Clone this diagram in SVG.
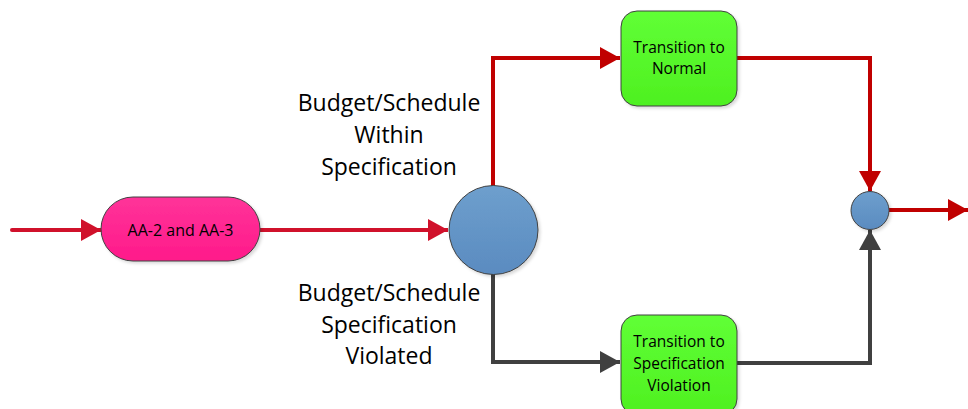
<svg xmlns="http://www.w3.org/2000/svg" width="968" height="409" viewBox="0 0 968 409">
<style>
.node{stroke:#404040;stroke-width:1}
.t{font-family:"Open Sans","Liberation Sans",sans-serif;fill:#000;text-anchor:middle}
.small{font-size:15.5px}
.mid{font-size:16px}
.big{font-size:23px}
.red{fill:none;stroke:#C00000;stroke-width:4}
.red2{fill:none;stroke:#D0112B;stroke-width:4}
.gray{fill:none;stroke:#404040;stroke-width:4}
</style>
<defs>
<linearGradient id="gPink" x1="0" y1="0" x2="0" y2="1"><stop offset="0" stop-color="#FF3399"/><stop offset="1" stop-color="#FF1A8A"/></linearGradient>
<linearGradient id="gGreen" x1="0" y1="0" x2="0" y2="1"><stop offset="0" stop-color="#60FF36"/><stop offset="1" stop-color="#4EF020"/></linearGradient>
<linearGradient id="gBlue" x1="0" y1="0" x2="0" y2="1"><stop offset="0" stop-color="#6E9FCD"/><stop offset="1" stop-color="#5A8BC0"/></linearGradient>
<filter id="sh" x="-20%" y="-20%" width="150%" height="150%"><feDropShadow dx="2" dy="2" stdDeviation="1.5" flood-color="#000" flood-opacity="0.15"/></filter>
<marker id="aRed" markerUnits="userSpaceOnUse" markerWidth="22" markerHeight="24" refX="20" refY="11" orient="auto"><path d="M0,0 L20,11 L0,22 Z" fill="#C00000"/></marker>
<marker id="aRed2" markerUnits="userSpaceOnUse" markerWidth="22" markerHeight="24" refX="20" refY="11" orient="auto"><path d="M0,0 L20,11 L0,22 Z" fill="#D0112B"/></marker>
<marker id="aGray" markerUnits="userSpaceOnUse" markerWidth="22" markerHeight="24" refX="20" refY="11" orient="auto"><path d="M0,0 L20,11 L0,22 Z" fill="#404040"/></marker>
</defs>
<g id="connectors">
<path class="red2" d="M12,230 H101" stroke-linecap="round" marker-end="url(#aRed2)"/>
<path class="red2" d="M260,230 H448" marker-end="url(#aRed2)"/>
<path class="red" d="M493,186 V58 H620" marker-end="url(#aRed)"/>
<path class="gray" d="M493,274 V362 H620" marker-end="url(#aGray)"/>
<path class="red" d="M737,58 H870 V191" marker-end="url(#aRed)"/>
<path class="gray" d="M737,363 H870 V230" marker-end="url(#aGray)"/>
<path class="red" d="M889,210 H968" marker-end="url(#aRed)"/>
</g>
<g id="node-aa">
<rect class="node" x="101" y="197" width="159" height="64" rx="32" fill="url(#gPink)" filter="url(#sh)"/>
<text class="t mid" x="180.5" y="235.5">AA-2 and AA-3</text>
</g>
<g id="node-decision">
<circle class="node" cx="493.5" cy="230" r="44.5" fill="url(#gBlue)" filter="url(#sh)"/>
</g>
<g id="label-within">
<text class="t big" x="389" y="111">Budget/Schedule</text>
<text class="t big" x="389" y="143">Within</text>
<text class="t big" x="389" y="175">Specification</text>
</g>
<g id="label-violated">
<text class="t big" x="389" y="301">Budget/Schedule</text>
<text class="t big" x="389" y="333">Specification</text>
<text class="t big" x="389" y="364">Violated</text>
</g>
<g id="node-normal">
<rect class="node" x="621" y="11" width="116" height="95" rx="16" fill="url(#gGreen)" filter="url(#sh)"/>
<text class="t small" x="679" y="53">Transition to</text>
<text class="t small" x="679" y="74">Normal</text>
</g>
<g id="node-violation">
<rect class="node" x="621" y="315" width="116" height="100" rx="16" fill="url(#gGreen)" filter="url(#sh)"/>
<text class="t small" x="679" y="347">Transition to</text>
<text class="t small" x="679" y="369">Specification</text>
<text class="t small" x="679" y="391">Violation</text>
</g>
<g id="node-merge">
<circle class="node" cx="870" cy="210.5" r="19" fill="url(#gBlue)" filter="url(#sh)"/>
</g>
</svg>
